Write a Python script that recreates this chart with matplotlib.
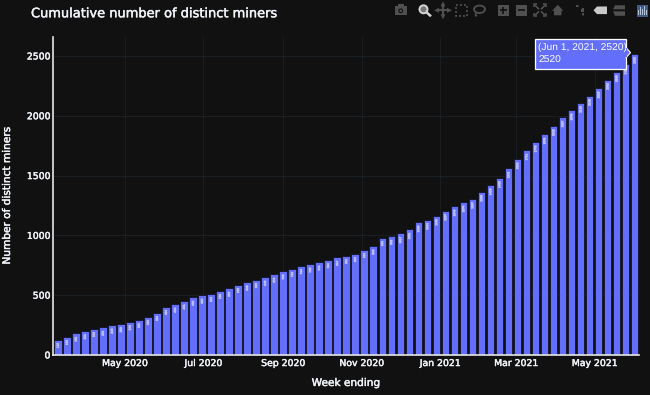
import pandas as pd
import matplotlib
matplotlib.use('Agg')
import matplotlib.pyplot as plt
import matplotlib.dates as mdates
import matplotlib.patheffects as pe
from matplotlib.patches import Rectangle, Polygon, Circle, Ellipse

plt.rcParams['text.hinting'] = 'none'

BG = '#111111'
BAR = '#636efa'
TXT = '#f2f5fa'
W, H = 650, 395

# weekly cumulative counts
week_ending = pd.date_range('2020-03-10', '2021-06-01', freq='7D')
miners = [128, 153, 181, 201, 220, 231, 248, 259, 276, 295, 320, 354, 404, 424,
          451, 482, 498, 513, 538, 557, 588, 608, 630, 649, 674, 700, 722, 744,
          758, 775, 794, 817, 831, 847, 881, 909, 981, 992, 1017, 1051, 1109,
          1131, 1165, 1207, 1243, 1276, 1307, 1366, 1419, 1480, 1561, 1636,
          1711, 1778, 1845, 1915, 1987, 2046, 2110, 2168, 2230, 2302, 2366,
          2430, 2520]
y_ticks = [0, 500, 1000, 1500, 2000, 2500]
x_ticks = ['2020-05-01', '2020-07-01', '2020-09-01', '2020-11-01',
           '2021-01-01', '2021-03-01', '2021-05-01']
x_labels = ['May 2020', 'Jul 2020', 'Sep 2020', 'Nov 2020',
            'Jan 2021', 'Mar 2021', 'May 2021']

heavy = [pe.withStroke(linewidth=0.3, foreground=TXT)]

fig = plt.figure(figsize=(6.5, 3.95), dpi=100, facecolor=BG)
ax = fig.add_axes([52.5 / W, 1 - 355 / H, (639 - 52.5) / W, (355 - 37) / H], facecolor=BG)

ax.bar(week_ending, miners, width=5.8, color=BAR, edgecolor='#0b0b14', linewidth=0.5, zorder=2)

# tiny value labels inside the bars, they only read as pale streaks
blob = [pe.withStroke(linewidth=0.5, foreground='#a9aefc')]
for d, v in zip(week_ending, miners):
    ax.annotate(str(v), (d, v), xytext=(0, -2.4), textcoords='offset points', rotation=90,
                ha='center', va='top', fontsize=1.9, color='#d5d8ff', zorder=3, path_effects=blob)

start = mdates.date2num(week_ending[0])
ax.set_xlim(start - 4.2, start + 451.5)
ax.set_ylim(0, 2659)

ax.set_xticks(pd.to_datetime(x_ticks))
ax.set_xticklabels(x_labels)
ax.set_yticks(y_ticks)
ax.grid(color='#283442', linewidth=0.6, alpha=0.45, zorder=0)
ax.set_axisbelow(True)
ax.tick_params(axis='both', length=0, labelsize=6.7, colors=TXT)
ax.tick_params(axis='x', pad=3)
ax.tick_params(axis='y', pad=1.5)
for t in ax.get_xticklabels() + ax.get_yticklabels():
    t.set_path_effects(heavy)
for s in ['top', 'right']:
    ax.spines[s].set_visible(False)
for s in ['left', 'bottom']:
    ax.spines[s].set_color('#e6e6e6')
    ax.spines[s].set_linewidth(1.2)
    ax.spines[s].set_zorder(5)

ax.set_xlabel('Week ending', fontsize=7.6, color=TXT, labelpad=7, path_effects=heavy)
ax.set_ylabel('Number of distinct miners', fontsize=7.6, color=TXT, labelpad=10.5, path_effects=heavy)

fig.text(31 / W, 1 - 13.7 / H, 'Cumulative number of distinct miners', fontsize=9.35,
         color=TXT, va='center', ha='left', path_effects=heavy)

# pixel overlay for the hover box and the modebar
ov = fig.add_axes([0, 0, 1, 1], facecolor='none', zorder=5)
ov.set_xlim(0, W)
ov.set_ylim(H, 0)
ov.axis('off')

# hover box, placed from the last bar
fig.canvas.draw()
tip_x, tip_y = ax.transData.transform((mdates.date2num(week_ending[-1]), miners[-1]))
tip_x, tip_y = tip_x - 4, H - tip_y - 1
ov.add_patch(Rectangle((tip_x - 95, tip_y - 14), 91, 30, facecolor=BAR, edgecolor='white', linewidth=0.9))
ov.add_patch(Polygon([(tip_x - 4.5, tip_y - 5), (tip_x, tip_y), (tip_x - 4.5, tip_y + 5)],
                     facecolor=BAR, edgecolor='white', linewidth=0.8))
ov.add_patch(Rectangle((tip_x - 5.5, tip_y - 4.5), 2, 9, facecolor=BAR, edgecolor='none'))
ov.text(tip_x - 92.3, tip_y - 5.2, '(Jun %d, %d, %d)' % (1, 2021, miners[-1]), fontsize=7.4,
        family='Liberation Sans', color='white', va='center')
ov.text(tip_x - 92.3, tip_y + 8, str(miners[-1]), fontsize=7.4,
        family='Liberation Sans', color='white', va='center')

# modebar, drawn as plain shapes
GREY = '#505050'
cy = 10.3


def box(cx, w, h, **kw):
    kw.setdefault('facecolor', GREY)
    kw.setdefault('edgecolor', 'none')
    ov.add_patch(Rectangle((cx - w / 2, cy - h / 2), w, h, **kw))


def line(xs, ys, color=GREY, lw=1.2, ls='-'):
    ov.plot(xs, ys, color=color, lw=lw, ls=ls, solid_capstyle='butt')


# camera
box(400.7, 12, 9)
ov.add_patch(Rectangle((398, cy - 6), 5.5, 2, facecolor=GREY))
ov.add_patch(Circle((400.7, cy + 0.5), 2.4, facecolor=BG, edgecolor='none'))
ov.add_patch(Circle((400.7, cy + 0.5), 1.3, facecolor=GREY, edgecolor='none'))
# zoom, the active one
ov.add_patch(Circle((423.5, cy - 1), 4, facecolor='#777777', edgecolor='#d5d5d5', linewidth=1.4))
line([426.5, 431], [cy + 2, cy + 6], '#d5d5d5', 1.8)
# pan
line([437, 449], [cy, cy], GREY, 1.5)
line([443, 443], [cy - 6, cy + 6], GREY, 1.5)
for dx, dy in [(-6, 0), (6, 0), (0, -6), (0, 6)]:
    px_, py_ = 443 + dx, cy + dy
    if dx:
        tri = [(px_ + dx / 2, py_), (px_ - dx / 3, py_ - 2.5), (px_ - dx / 3, py_ + 2.5)]
    else:
        tri = [(px_, py_ + dy / 2), (px_ - 2.5, py_ - dy / 3), (px_ + 2.5, py_ - dy / 3)]
    ov.add_patch(Polygon(tri, facecolor=GREY))
# box select
box(461, 11, 11, facecolor='none', edgecolor=GREY, linewidth=1.2, linestyle=(0, (1.2, 1.2)))
# lasso
ov.add_patch(Ellipse((479.5, cy - 1), 11, 7.5, facecolor='none', edgecolor=GREY, linewidth=1.3))
line([476, 475.5, 477], [cy + 2, cy + 5, cy + 6], GREY, 1.2)
# zoom in / out
box(503.3, 11, 11)
line([500, 506.6], [cy, cy], BG, 1.2)
line([503.3, 503.3], [cy - 3.3, cy + 3.3], BG, 1.2)
box(521.7, 11, 11)
line([518.4, 525], [cy, cy], BG, 1.2)
# autoscale
for sx in (-1, 1):
    for sy in (-1, 1):
        line([540 + sx * 6, 540 + sx * 6, 540 + sx * 3], [cy + sy * 3, cy + sy * 6, cy + sy * 6])
        line([540 + sx * 1, 540 + sx * 5], [cy + sy * 1, cy + sy * 5])
# home
ov.add_patch(Polygon([(552, cy + 0.5), (557.8, cy - 5.5), (563.5, cy + 0.5), (561.5, cy + 0.5),
                      (561.5, cy + 5), (554, cy + 5), (554, cy + 0.5)], facecolor=GREY))
# spike lines
line([576, 581], [cy - 4, cy - 4], GREY, 1.5, ls=(0, (1.2, 1.2)))
line([583, 583], [cy - 2, cy + 6], GREY, 1.5, ls=(0, (1.2, 1.2)))
box(582.5, 3.5, 3)
# hover closest, a lighter tag
ov.add_patch(Polygon([(593.5, cy), (597, cy - 3.8), (607, cy - 3.8), (607, cy + 3.8), (597, cy + 3.8)],
                     facecolor='#c9c9c9'))
# hover compare
ov.add_patch(Polygon([(613, cy - 1), (615, cy - 5), (625, cy - 5), (625, cy - 1)], facecolor=GREY))
ov.add_patch(Polygon([(613, cy + 1), (615, cy + 5.5), (625, cy + 5.5), (625, cy + 1)], facecolor=GREY))
# plotly logo
ov.add_patch(Rectangle((636.5, cy - 5.5), 11.5, 12, facecolor='#3f5a85'))
for dx, bh in zip([638.3, 640.5, 642.7, 644.9, 646.6], [5, 8, 6, 9, 5]):
    ov.add_patch(Rectangle((dx - 0.5, cy + 5 - bh), 1, bh, facecolor='#b5c3d8'))

fig.savefig('out.png', dpi=100, facecolor=BG)
